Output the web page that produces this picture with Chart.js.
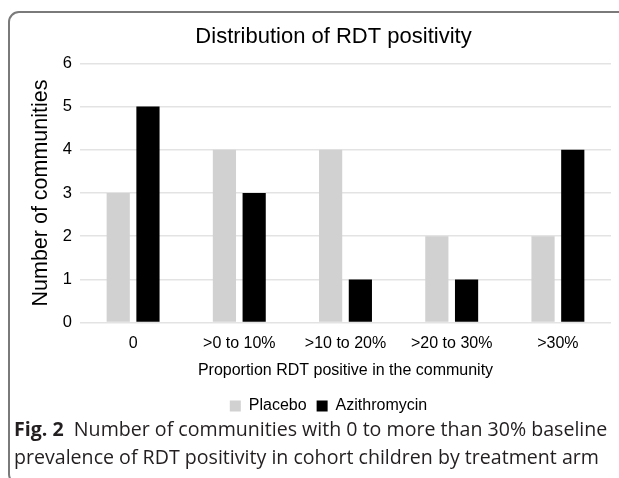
<!DOCTYPE html>
<html>
<head>
<meta charset="utf-8">
<script src="https://cdn.jsdelivr.net/npm/chart.js@4"></script>
<style>
  body { margin: 0; background: #fff; width: 619px; height: 478px; overflow: hidden; position: relative; }
  .frame { position: absolute; left: 8px; top: 11px; width: 700px; height: 470px; border: 2px solid #7a7a7a; border-radius: 11px; }
  .chartbox { position: absolute; left: 0; top: 0; width: 619px; height: 424px; }
  .caption { position: absolute; left: 14px; top: 415px; width: 605px; font-family: "Open Sans", sans-serif; font-size: 19.6px; line-height: 28px; color: #231f20; white-space: nowrap; }
  .caption b { font-weight: 700; }
</style>
</head>
<body>
<div class="frame"></div>
<div class="chartbox"><canvas id="myChart"></canvas></div>
<div class="caption"><b>Fig. 2</b>&nbsp; Number of communities with 0 to more than 30% baseline<br>prevalence of RDT positivity in cohort children by treatment arm</div>
<script>
const categories = ["0", ">0 to 10%", ">10 to 20%", ">20 to 30%", ">30%"]
const placebo = [3, 4, 4, 2, 2]
const azithromycin = [5, 3, 1, 1, 4]
const yTicks = [0, 1, 2, 3, 4, 5, 6]

const font = "'Liberation Sans', Arial, sans-serif"

// excel centres title and legend a bit off the canvas middle
const nudge = {
  id: 'nudge',
  afterLayout(chart) {
    chart.titleBlock.left += 14
    chart.titleBlock.right += 14
    chart.legend.left += 9
    chart.legend.right += 9
  }
}

const data = {
  labels: categories,
  datasets: [{
    label: 'Placebo',
    backgroundColor: '#d0d1d0',
    data: placebo
  }, {
    label: 'Azithromycin',
    backgroundColor: '#000000',
    data: azithromycin
  }]
}

const config = {
  type: 'bar',
  data: data,
  plugins: [nudge],
  options: {
    responsive: false,
    animation: false,
    categoryPercentage: 0.56,
    barPercentage: 0.78,
    layout: { padding: { left: 28, right: 8, top: 12, bottom: 0 } },
    plugins: {
      title: {
        display: true,
        text: 'Distribution of RDT positivity',
        color: '#000',
        font: { family: font, size: 22, weight: 'normal' },
        padding: { top: 12, bottom: 13 }
      },
      legend: {
        position: 'bottom',
        labels: {
          color: '#000',
          font: { family: font, size: 16 },
          boxWidth: 11,
          boxHeight: 11,
          padding: 10
        }
      },
      tooltip: { enabled: false }
    },
    scales: {
      x: {
        grid: { display: false, drawTicks: false },
        border: { display: false },
        ticks: { color: '#000', font: { family: font, size: 16 }, padding: 11 },
        title: {
          display: true,
          text: 'Proportion RDT positive in the community',
          color: '#000',
          font: { family: font, size: 16 },
          padding: { top: -3, bottom: 8 }
        }
      },
      y: {
        min: 0,
        max: 6,
        afterBuildTicks: (s) => { s.ticks = yTicks.map(v => ({ value: v })) },
        afterFit: (s) => { s.width = 52 },
        grid: { color: '#e3e3e3', lineWidth: 1.5, drawTicks: false },
        border: { display: false },
        ticks: { color: '#000', font: { family: font, size: 16.5 }, padding: 8 },
        title: {
          display: true,
          text: 'Number of communities',
          color: '#000',
          font: { family: font, size: 21.5 },
          padding: 0
        }
      }
    }
  }
}

const canvas = document.getElementById('myChart')
canvas.width = 619
canvas.height = 424
const myChart = new Chart(canvas, config)
</script>
</body>
</html>
